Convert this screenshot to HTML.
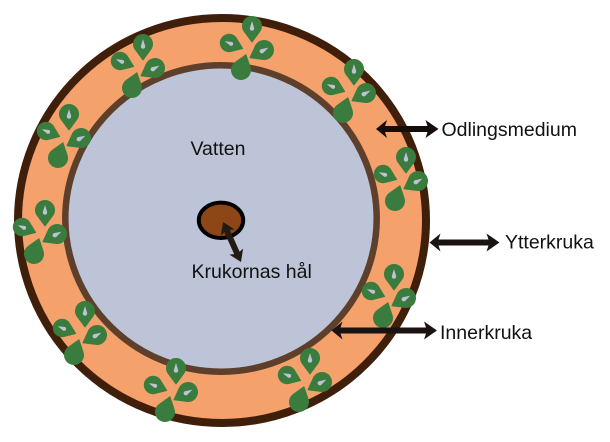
<!DOCTYPE html>
<html>
<head>
<meta charset="utf-8">
<style>
  html, body { margin: 0; padding: 0; background: #ffffff; }
  svg { display: block; }
  text { font-family: "Liberation Sans", Arial, sans-serif; font-size: 19.5px; fill: #111111; }
</style>
</head>
<body>
<svg width="610" height="442" viewBox="0 0 610 442" xmlns="http://www.w3.org/2000/svg">
  <defs>
    <g id="leafH">
      <path d="M0,-16 L7.65,-5.64 A9.5 9.5 0 1 1 -7.65,-5.64 Z" fill="#3a7b3e" stroke="#3a7b3e" stroke-width="1" stroke-linejoin="round"/>
      <path d="M0,5 L2.1,-1.86 A2.2 2.2 0 1 0 -2.1,-1.86 Z" fill="#bcc3d6"/>
    </g>
    <g id="leaf">
      <path d="M0,-16 L7.65,-5.64 A9.5 9.5 0 1 1 -7.65,-5.64 Z" fill="#3a7b3e" stroke="#3a7b3e" stroke-width="1" stroke-linejoin="round"/>
    </g>
    <g id="cluster">
      <use href="#leafH" transform="translate(4,-26) rotate(180)"/>
      <use href="#leafH" transform="translate(-19,-9) rotate(112) scale(0.92)"/>
      <use href="#leafH" transform="translate(16,-2) rotate(241)"/>
      <use href="#leaf" transform="translate(-7,18) rotate(18)"/>
    </g>
  </defs>

  <!-- outer pot -->
  <ellipse cx="222" cy="220.5" rx="204" ry="202.5" fill="#f4a16b" stroke="#3f1e0a" stroke-width="8"/>
  <!-- inner pot -->
  <ellipse cx="221" cy="218.5" rx="155.7" ry="153.2" fill="#bdc4d7" stroke="#5d3f2c" stroke-width="6.5"/>

  <!-- leaf clusters -->
  <use href="#cluster" transform="translate(139,70)"/>
  <use href="#cluster" transform="translate(65,140)"/>
  <use href="#cluster" transform="translate(248,52)"/>
  <use href="#cluster" transform="translate(350,95)"/>
  <use href="#cluster" transform="translate(402,183)"/>
  <use href="#cluster" transform="translate(390,300)"/>
  <use href="#cluster" transform="translate(306,384)"/>
  <use href="#cluster" transform="translate(172,394)"/>
  <use href="#cluster" transform="translate(81,337)"/>
  <use href="#cluster" transform="translate(41,236)"/>

  <!-- hole -->
  <ellipse cx="221" cy="220.3" rx="22.2" ry="17.7" fill="#8e4616" stroke="#000000" stroke-width="4"/>
  <!-- hole arrow -->
  <g transform="translate(223,222) rotate(65.8)">
    <polygon points="0,0 11.5,-7.5 10,-3 33.9,-3 32.4,-7.5 43.9,0 32.4,7.5 33.9,3 10,3 11.5,7.5" fill="#231a14"/>
  </g>

  <!-- right arrows -->
  <polygon points="376,129 387,120 385,126 427.5,126 425.5,120 438.5,129 425.5,138 427.5,132 385,132 387,138" fill="#150d0c"/>
  <polygon points="429.5,242.5 440.5,233.5 438.5,239.5 488.5,239.5 486.5,233.5 499.5,242.5 486.5,251.5 488.5,245.5 438.5,245.5 440.5,251.5" fill="#1a1311"/>
  <polygon points="331.5,330.5 342.5,321.5 340.5,327.5 426,327.5 424,321.5 437,330.5 424,339.5 426,333.5 340.5,333.5 342.5,339.5" fill="#1a1311"/>

  <!-- labels -->
  <text x="190.5" y="155">Vatten</text>
  <text x="191.5" y="278">Krukornas hål</text>
  <text x="441.5" y="136">Odlingsmedium</text>
  <text x="505" y="248.5">Ytterkruka</text>
  <text x="440" y="339">Innerkruka</text>
</svg>
</body>
</html>
